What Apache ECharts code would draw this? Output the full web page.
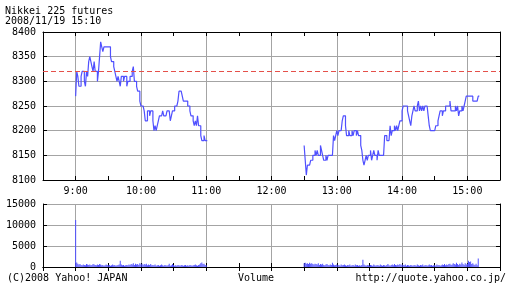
<!DOCTYPE html>
<html>
<head>
<meta charset="utf-8">
<script src="https://cdn.jsdelivr.net/npm/echarts@6/dist/echarts.min.js"></script>
<style>html,body{margin:0;padding:0;background:#fff}#c{width:512px;height:288px}</style>
</head>
<body>
<div id="c"></div>
<script>
// ---- data ----
const titleLines = ['Nikkei 225 futures', '2008/11/19 15:10'];
const footerLeft = '(C)2008 Yahoo! JAPAN';
const footerMid = 'Volume';
const footerRight = 'http://quote.yahoo.co.jp/';
const dayStart = '8:30';           // left edge of the axis
const dayMinutes = 420;            // 8:30 .. 15:30
const morningStart = '9:00';
const afternoonStart = '12:30';
const prevClose = 8320;
const priceTicks = [8100, 8400, 50];
const volumeTicks = [0, 15000, 5000];

const morningPrice = [
8270,8320,8310,8290,8290,8310,8320,8320,8300,8290,
8320,8310,8340,8350,8340,8330,8320,8340,8320,8320,
8300,8320,8350,8380,8370,8360,8370,8370,8370,8370,
8370,8370,8350,8340,8340,8330,8320,8310,8300,8310,
8300,8290,8310,8310,8300,8310,8310,8290,8300,8300,
8310,8310,8320,8330,8300,8300,8290,8280,8280,8260,
8250,8250,8250,8240,8220,8220,8240,8240,8230,8240,
8240,8220,8200,8210,8200,8210,8220,8230,8230,8230,
8240,8230,8230,8230,8240,8240,8240,8220,8230,8240,
8240,8250,8250,8250,8260,8280,8280,8280,8270,8260,
8260,8260,8260,8250,8250,8240,8230,8230,8220,8210,
8220,8210,8230,8210,8210,8190,8180,8180,8190,8180,
8180];
const afternoonPrice = [
8170,8140,8110,8130,8130,8130,8140,8140,8150,8150,
8160,8150,8160,8150,8150,8170,8160,8150,8140,8140,
8150,8140,8150,8150,8150,8150,8150,8190,8180,8190,
8200,8190,8200,8200,8200,8220,8230,8230,8210,8190,
8190,8200,8190,8190,8200,8190,8200,8200,8190,8200,
8190,8190,8170,8160,8140,8130,8140,8150,8140,8150,
8150,8160,8140,8150,8160,8150,8150,8140,8160,8150,
8150,8150,8150,8150,8190,8190,8180,8180,8180,8210,
8190,8200,8200,8210,8200,8210,8200,8210,8220,8220,
8240,8250,8250,8250,8250,8240,8230,8220,8210,8230,
8240,8250,8240,8240,8250,8260,8240,8250,8240,8250,
8240,8250,8250,8250,8230,8210,8200,8200,8200,8200,
8200,8210,8210,8220,8230,8240,8240,8230,8240,8240,
8250,8250,8250,8250,8260,8240,8240,8240,8240,8250,
8240,8250,8230,8240,8240,8250,8240,8250,8260,8270,
8270,8270,8270,8270,8270,8260,8260,8260,8260,8260,
8270];
const morningVolume = [
11200,
1100,800,600,700,500,400,600,500,400,700,
600,500,600,400,500,700,600,500,400,600,
500,700,600,400,500,300,400,600,500,400,
500,300,400,600,400,500,300,400,500,600,
1500,600,400,500,300,400,500,400,600,500,
700,600,900,500,800,600,700,500,900,600,
800,500,700,600,800,400,600,500,700,400,
500,400,600,300,400,500,300,400,600,400,
300,500,400,300,500,800,300,400,700,500,
300,400,300,500,400,300,500,400,300,400,
500,300,400,300,500,400,300,400,500,600,
400,300,500,600,900,1100,700,800,500,400];
const afternoonVolume = [
900,
1000,800,900,700,1000,800,900,700,600,800,
700,600,900,500,700,600,800,500,400,600,
700,500,400,600,500,1000,600,400,500,600,
400,500,300,600,400,500,600,400,300,500,
400,600,300,400,500,300,600,400,500,300,
400,300,500,1700,600,400,300,500,400,300,
500,400,300,600,400,300,500,400,300,600,
400,300,500,400,300,500,700,400,300,500,
600,400,700,500,400,600,500,700,400,600,
500,400,600,300,500,400,300,500,400,300,
500,400,300,600,400,300,500,400,600,300,
400,500,300,400,600,400,500,300,400,500,
300,600,400,500,300,400,600,500,700,400,
600,500,700,800,500,600,900,700,600,1000,
700,500,800,600,1100,700,500,900,600,800,
1500,1200,1300,700,900,600,500,800,400,2000];

// ---- build categories (one per minute) and padded series ----
function toMin(s){const p=s.split(':');return +p[0]*60+ +p[1];}
const base = toMin(dayStart);
const minutes = [];
for (let i = 0; i <= dayMinutes; i++) {
  const t = base + i;
  minutes.push(Math.floor(t/60) + ':' + String(t%60).padStart(2,'0'));
}
function place(out, arr, start){
  const off = toMin(start) - base;
  arr.forEach((v,i)=>{ out[off+i] = v; });
  return out;
}
const priceData = new Array(minutes.length).fill(null);
place(priceData, morningPrice, morningStart);
place(priceData, afternoonPrice, afternoonStart);
const volumeData = new Array(minutes.length).fill(null);
place(volumeData, morningVolume, morningStart);
place(volumeData, afternoonVolume, afternoonStart);

const FONT = 'DejaVu Sans Mono';
const GRID = '#a4a4a4';
const isHour = (idx) => (base + idx) % 60 === 0;
const isHalf = (idx) => (base + idx) % 30 === 0;

function xAx(gridIndex, position, labels, split){
  return {
    type: 'category', data: minutes, gridIndex, position, boundaryGap: false,
    axisLine: {show: true, lineStyle: {color: '#000', width: 1}},
    axisTick: {show: true, inside: true, length: 4, interval: isHalf, lineStyle: {color: '#000'}},
    axisLabel: {show: labels, interval: isHour, margin: 6, fontFamily: FONT, fontSize: 10, color: '#000'},
    splitLine: {show: split, interval: isHour, lineStyle: {color: GRID, width: 1}}
  };
}
function yAx(gridIndex, position, t, labels, split){
  return {
    type: 'value', gridIndex, position, min: t[0], max: t[1], interval: t[2],
    axisLine: {show: true, lineStyle: {color: '#000', width: 1}},
    axisTick: {show: true, inside: true, length: 4, lineStyle: {color: '#000'}},
    axisLabel: {show: labels, margin: 7, fontFamily: FONT, fontSize: 10, color: '#000',
                formatter: (v) => String(v)},
    splitLine: {show: split, lineStyle: {color: GRID, width: 1}}
  };
}

const chart = echarts.init(document.getElementById('c'), null, {renderer: 'canvas'});
chart.setOption({
  animation: false,
  backgroundColor: '#fff',
  title: {
    text: titleLines.join('\n'), left: 5, top: 6, padding: 0,
    textStyle: {fontFamily: FONT, fontSize: 10, fontWeight: 'normal', color: '#000', lineHeight: 10}
  },
  grid: [
    {left: 43, top: 32, width: 457, height: 148},
    {left: 43, top: 204, width: 457, height: 63}
  ],
  xAxis: [
    xAx(0, 'bottom', true, true),
    xAx(0, 'top', false, false),
    xAx(1, 'bottom', false, true),
    xAx(1, 'top', false, false)
  ],
  yAxis: [
    yAx(0, 'left', priceTicks, true, true),
    yAx(0, 'right', priceTicks, false, false),
    yAx(1, 'left', volumeTicks, true, true),
    yAx(1, 'right', volumeTicks, false, false)
  ],
  series: [
    {
      type: 'line', xAxisIndex: 0, yAxisIndex: 0, data: priceData, step: 'end',
      showSymbol: false, connectNulls: false,
      lineStyle: {color: '#5050ff', width: 1.2},
      markLine: {
        silent: true, symbol: 'none', label: {show: false},
        lineStyle: {color: '#e5504a', type: [5, 3], width: 1.2},
        data: [{yAxis: prevClose}]
      }
    },
    {
      type: 'bar', xAxisIndex: 2, yAxisIndex: 2, data: volumeData, barWidth: 1,
      itemStyle: {color: '#5050ff'}
    }
  ],
  graphic: [
    {type: 'text', left: 7, top: 273, style: {text: footerLeft, font: '10px ' + FONT, fill: '#000'}},
    {type: 'text', left: 238, top: 273, style: {text: footerMid, font: '10px ' + FONT, fill: '#000'}},
    {type: 'text', right: 6, top: 273, style: {text: footerRight, font: '10px ' + FONT, fill: '#000'}}
  ]
});
</script>
</body>
</html>
